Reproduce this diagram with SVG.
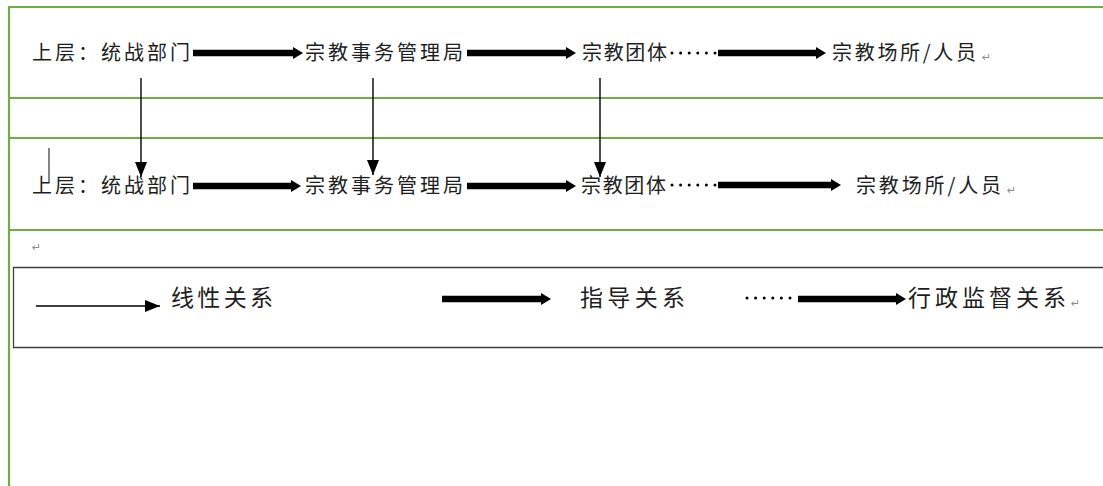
<svg xmlns="http://www.w3.org/2000/svg" width="1103" height="486" viewBox="0 0 1103 486">
  <style>
    .grid { stroke: #70ad47; stroke-width: 2.2; fill: none; }
    .box { stroke: #404040; stroke-width: 1.3; fill: none; }
    .lbl { font-family: "Noto Sans CJK SC", "Noto Sans", sans-serif; font-size: 20px; fill: #1e1e1e; }
    .leg { font-family: "Noto Sans CJK SC", "Noto Sans", sans-serif; font-size: 23px; fill: #1e1e1e; }
    .ret { font-family: "DejaVu Sans", sans-serif; font-size: 11px; fill: #8a8a8a; }
    .thick { stroke: #000; stroke-width: 6.5; fill: none; }
    .thin { stroke: #000; stroke-width: 1.4; fill: none; }
    .dots { stroke: #000; stroke-width: 3; stroke-linecap: round; stroke-dasharray: 0 8.6; fill: none; }
  </style>
  <defs>
    <marker id="headThick" markerUnits="userSpaceOnUse" markerWidth="10" markerHeight="12" viewBox="0 0 10 12" refX="0" refY="6" orient="auto">
      <path d="M0,0 L10,6 L0,12 z" fill="#000"/>
    </marker>
    <marker id="headThin" markerUnits="userSpaceOnUse" markerWidth="15" markerHeight="12" viewBox="0 0 15 12" refX="15" refY="6" orient="auto">
      <path d="M0,0 L15,6 L0,12 z" fill="#000"/>
    </marker>
  </defs>

  <rect x="0" y="0" width="1103" height="486" fill="#fff"/>

  <!-- table rules -->
  <g id="table">
    <line class="grid" x1="9" y1="7" x2="1103" y2="7"/>
    <line class="grid" x1="9" y1="98" x2="1103" y2="98"/>
    <line class="grid" x1="9" y1="138" x2="1103" y2="138"/>
    <line class="grid" x1="9" y1="230" x2="1103" y2="230"/>
    <line class="grid" x1="9" y1="6" x2="9" y2="486"/>
  </g>

  <!-- upper row -->
  <g id="row1">
    <g id="r1-united-front"><text class="lbl" x="32" y="60" textLength="158" lengthAdjust="spacing">上层：统战部门</text></g>
    <g id="r1-bureau"><text class="lbl" x="305" y="60" textLength="158" lengthAdjust="spacing">宗教事务管理局</text></g>
    <g id="r1-groups"><text class="lbl" x="582" y="60" textLength="85" lengthAdjust="spacing">宗教团体</text></g>
    <g id="r1-sites"><text class="lbl" x="832" y="60" textLength="144" lengthAdjust="spacing">宗教场所/人员</text></g>
    <text class="ret" x="982" y="61">↵</text>
  </g>

  <!-- lower row -->
  <g id="row2">
    <line x1="49" y1="148" x2="49" y2="182" stroke="#333" stroke-width="1.2"/>
    <g id="r2-united-front"><text class="lbl" x="32" y="193" textLength="158" lengthAdjust="spacing">上层：统战部门</text></g>
    <g id="r2-bureau"><text class="lbl" x="305" y="193" textLength="158" lengthAdjust="spacing">宗教事务管理局</text></g>
    <g id="r2-groups"><text class="lbl" x="581" y="193" textLength="85" lengthAdjust="spacing">宗教团体</text></g>
    <g id="r2-sites"><text class="lbl" x="856" y="193" textLength="145" lengthAdjust="spacing">宗教场所/人员</text></g>
    <text class="ret" x="1007" y="194">↵</text>
  </g>

  <text class="ret" x="32" y="251">↵</text>

  <!-- legend -->
  <g id="legend">
    <path class="box" d="M1103,267.5 H13.5 V347.5 H1103"/>
    <text class="leg" x="171" y="306" textLength="102" lengthAdjust="spacing">线性关系</text>
    <text class="leg" x="580" y="306" textLength="105" lengthAdjust="spacing">指导关系</text>
    <text class="leg" x="908" y="306" textLength="158" lengthAdjust="spacing">行政监督关系</text>
    <text class="ret" x="1071" y="307">↵</text>
  </g>

  <!-- connectors -->
  <g id="connectors">
    <!-- guidance (thick) -->
    <line class="thick" x1="193" y1="53" x2="293" y2="53" marker-end="url(#headThick)"/>
    <line class="thick" x1="467" y1="53" x2="566" y2="53" marker-end="url(#headThick)"/>
    <line class="thick" x1="193" y1="186" x2="291" y2="186" marker-end="url(#headThick)"/>
    <line class="thick" x1="467" y1="186" x2="566" y2="186" marker-end="url(#headThick)"/>
    <line class="thick" x1="442" y1="299" x2="541" y2="299" marker-end="url(#headThick)"/>

    <!-- supervision (dotted lead + thick) -->
    <line class="dots" x1="672" y1="53" x2="716" y2="53"/>
    <line class="thick" x1="718" y1="53" x2="816" y2="53" marker-end="url(#headThick)"/>
    <line class="dots" x1="672" y1="185" x2="716" y2="185"/>
    <line class="thick" x1="718" y1="185" x2="831" y2="185" marker-end="url(#headThick)"/>
    <line class="dots" x1="747" y1="298" x2="791" y2="298"/>
    <line class="thick" x1="798" y1="299" x2="896" y2="299" marker-end="url(#headThick)"/>

    <!-- linear (thin) -->
    <line class="thin" x1="141" y1="78" x2="141" y2="177" marker-end="url(#headThin)"/>
    <line class="thin" x1="373" y1="78" x2="373" y2="175" marker-end="url(#headThin)"/>
    <line class="thin" x1="600" y1="78" x2="600" y2="177" marker-end="url(#headThin)"/>
    <line class="thin" x1="36" y1="306" x2="160" y2="306" marker-end="url(#headThin)"/>
  </g>
</svg>
